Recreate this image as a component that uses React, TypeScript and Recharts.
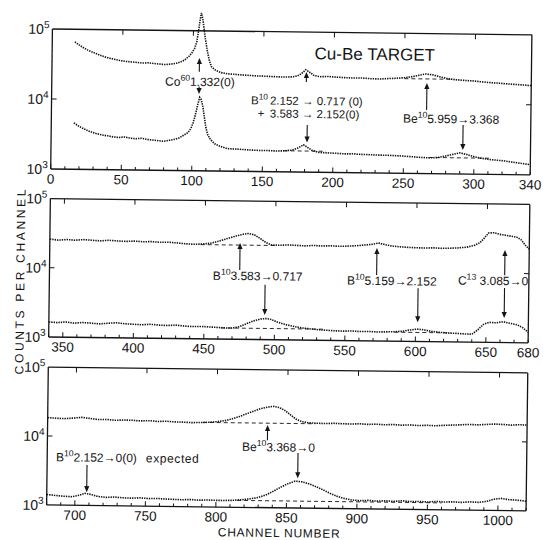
import { LineChart, Line, XAxis, YAxis, ReferenceLine, ReferenceDot } from 'recharts'

type Pt = [number, number]

// [channel, counts per channel]
const p1Upper: Pt[] = [[16,66000],[19,60000],[22,55000],[25,51000],[28,48000],[31,45500],[34,43000],[37,41000],[40,39500],[44,38000],[48,36500],[52,35500],[56,35000],[60,34500],[64,33800],[68,34200],[72,33500],[76,33000],[80,32500],[84,33000],[88,34000],[91,35500],[94,38000],[97,43000],[99,48000],[101,56000],[102.5,70000],[103.5,95000],[104.5,135000],[105.5,180000],[106.5,150000],[107.5,108000],[108.5,78000],[110,52000],[111.5,38000],[113,31000],[116,27500],[120,25500],[125,24500],[130,24200],[135,23800],[140,23500],[146,23200],[152,23000],[158,22800],[164,22600],[170,22800],[174,23500],[177,25500],[180,29000],[183,26500],[186,24000],[190,23200],[196,23400],[202,23000],[208,22700],[214,22500],[220,22600],[226,22200],[232,22000],[238,22400],[244,22700],[250,23200],[255,24000],[260,25200],[265,26500],[270,25800],[275,24300],[280,23000],[286,22200],[292,21800],[298,21500],[304,21000],[310,20500],[316,20200],[322,19800],[328,19500],[334,19200],[340,18800]]
const p1Lower: Pt[] = [[16,4600],[19,4200],[22,3900],[25,3650],[28,3450],[31,3300],[34,3200],[37,3100],[40,3050],[44,2950],[48,2900],[52,2950],[56,2850],[60,2800],[64,2850],[68,2750],[72,2700],[76,2650],[80,2600],[84,2700],[88,2800],[91,2950],[94,3200],[97,3500],[99,4000],[100.5,4800],[102,6200],[103.5,8500],[105,11200],[106,10500],[107.3,8400],[108.5,5800],[109.7,4100],[111,3300],[113,2800],[116,2450],[120,2250],[125,2100],[130,2080],[136,2050],[142,2020],[148,2000],[154,2000],[160,1980],[166,2000],[171,2050],[175,2200],[179,2450],[182,2250],[185,2050],[190,1920],[196,1900],[202,1880],[208,1850],[214,1860],[220,1830],[226,1820],[232,1800],[238,1800],[244,1780],[250,1760],[256,1730],[262,1700],[268,1680],[274,1700],[280,1800],[285,1900],[290,2000],[295,1900],[300,1780],[305,1700],[310,1640],[316,1600],[322,1560],[328,1500],[334,1450],[340,1400]]

const p2Upper: Pt[] = [[340,26000],[346,25200],[352,25800],[358,25300],[364,25900],[370,25400],[376,25000],[382,25600],[388,25100],[394,24800],[400,25200],[406,24700],[412,24900],[418,24400],[424,24600],[430,24100],[436,23500],[442,23200],[448,23400],[454,24200],[460,26000],[466,28500],[472,31000],[477,33000],[481,34000],[485,32500],[489,29000],[493,25500],[497,23500],[503,23200],[509,23600],[515,23300],[521,23000],[527,23400],[533,23100],[539,23300],[545,23000],[551,23200],[557,23600],[563,24200],[569,25000],[573,26000],[577,25000],[582,23800],[588,23200],[594,22800],[600,22600],[606,22500],[612,22700],[618,22400],[624,22600],[630,22900],[636,23600],[641,25000],[645,27500],[648,32000],[651,38000],[655,38500],[659,36500],[663,35500],[667,34500],[671,33500],[674,31000],[677,26000],[680,22500]]
const p2Lower: Pt[] = [[340,1650],[346,1620],[352,1660],[358,1600],[364,1640],[370,1610],[376,1580],[382,1620],[388,1650],[394,1600],[400,1580],[406,1560],[412,1590],[418,1550],[424,1540],[430,1560],[436,1520],[442,1500],[448,1510],[454,1490],[460,1470],[466,1450],[470,1450],[475,1520],[480,1680],[485,1850],[490,1980],[494,2020],[498,1950],[502,1800],[507,1680],[513,1580],[519,1500],[525,1460],[531,1420],[537,1400],[543,1380],[549,1370],[555,1380],[561,1360],[567,1370],[573,1350],[579,1360],[585,1370],[591,1400],[596,1460],[601,1510],[606,1480],[611,1410],[617,1370],[623,1340],[629,1330],[635,1310],[640,1300],[644,1500],[648,1800],[652,1950],[657,1920],[662,2000],[667,1900],[672,1820],[676,1650],[680,1420]]

const p3Upper: Pt[] = [[680,18500],[686,18200],[692,18000],[698,18400],[704,18900],[710,18300],[716,17700],[722,17800],[728,17400],[734,17600],[740,17500],[746,17200],[752,17400],[758,17000],[764,17200],[770,16900],[776,16800],[782,16600],[788,16700],[794,16900],[800,17300],[806,18000],[811,19200],[816,20800],[821,22800],[826,25000],[831,27200],[836,28800],[840,29500],[844,28500],[848,26000],[852,22500],[856,19500],[860,18000],[865,17300],[871,17100],[877,17000],[883,17200],[889,17000],[895,16900],[901,17100],[907,16800],[913,17000],[919,16700],[925,16900],[931,16600],[937,16800],[943,16500],[949,16700],[955,16500],[961,16800],[967,17000],[973,17200],[979,17500],[985,17300],[991,17600],[997,17900],[1003,17700],[1009,17400],[1015,17700],[1020,17500]]
const p3Lower: Pt[] = [[680,1420],[686,1380],[692,1350],[698,1330],[703,1400],[707,1500],[711,1450],[716,1360],[722,1320],[728,1340],[734,1310],[740,1300],[746,1320],[752,1290],[758,1300],[764,1280],[770,1270],[776,1260],[782,1270],[788,1250],[794,1260],[800,1250],[806,1250],[812,1260],[818,1290],[824,1330],[830,1400],[836,1550],[841,1750],[846,2000],[851,2250],[856,2450],[861,2400],[866,2250],[871,2050],[876,1850],[881,1650],[886,1500],[891,1400],[896,1340],[902,1310],[908,1330],[914,1300],[920,1320],[926,1300],[932,1330],[938,1300],[944,1310],[950,1290],[956,1320],[962,1300],[968,1310],[974,1290],[980,1320],[986,1300],[992,1350],[997,1450],[1002,1500],[1008,1440],[1014,1420],[1020,1380]]

// labelled channels on each x axis
const p1Labels = [0, 50, 100, 150, 200, 250, 300, 340]
const p2Labels = [350, 400, 450, 500, 550, 600, 650, 680]
const p3Labels = [700, 750, 800, 850, 900, 950, 1000]

// dashed background under peaks: [from ch, to ch, counts]
const p1Base = [[165, 195, 2000], [268, 312, 1700], [250, 285, 22500]]
const p2Base = [[447, 500, 23000], [462, 535, 1450], [585, 625, 1350]]
const p3Base = [[790, 870, 16800], [815, 960, 1260]]

// arrows: [ch, tail counts, head counts]
const p1Arrows = [[104.5, 26000, 41000], [104.5, 16000, 12500], [180.5, 19400, 26900], [181.5, 4700, 2650], [266, 8100, 19700], [292, 5000, 2200]]
const p2Arrows = [[474.9, 10000, 24600], [493, 6200, 2270], [572, 9000, 22000], [601.5, 5900, 1900], [662.8, 9400, 21700], [662.8, 6140, 2260]]
const p3Arrows = [[836, 9500, 15800], [857.8, 6270, 2700], [708.3, 3850, 1560]]

// annotations: [ch, counts, text parts ('^' = superscript), anchor, size]
type Txt = [number, number, string[], string, number?]
const p1Texts: Txt[] = [
  [105, 16300, ['Co', '^60', '1.332(0)'], 'middle'],
  [228.8, 41000, ['Cu-Be TARGET'], 'middle', 17],
  [153.4, 9100, ['B', '^10'], 'end', 11.5],
  [154.9, 9100, ['2.152 → 0.717 (0)'], 'start', 11.5],
  [148.5, 5940, ['+'], 'middle', 11.5],
  [154.9, 5940, ['3.583 → 2.152(0)'], 'start', 11.5],
  [249.3, 5300, ['Be', '^10', '5.959→3.368'], 'start'],
]
const p2Texts: Txt[] = [
  [455.9, 7200, ['B', '^10', '3.583→0.717'], 'start'],
  [551, 6460, ['B', '^10', '5.159→2.152'], 'start'],
  [629.7, 6760, ['C', '^13', ' 3.085→0'], 'start'],
]
const p3Texts: Txt[] = [
  [818, 6600, ['Be', '^10', '3.368→0'], 'start'],
  [686.2, 4330, ['B', '^10', '2.152→0(0)', '~expected'], 'start'],
]

const INK = '#141414'
const FONT = '"Liberation Sans", Arial, sans-serif'

const panels = [
  { top: 31.7, bottom: 171.7, domain: [0, 340], labels: p1Labels, upper: p1Upper, lower: p1Lower, base: p1Base, arrows: p1Arrows, texts: p1Texts },
  { top: 201.3, bottom: 339.7, domain: [340, 680], labels: p2Labels, upper: p2Upper, lower: p2Lower, base: p2Base, arrows: p2Arrows, texts: p2Texts },
  { top: 369.8, bottom: 507.7, domain: [680, 1020], labels: p3Labels, upper: p3Upper, lower: p3Lower, base: p3Base, arrows: p3Arrows, texts: p3Texts },
]

const pts = (a: Pt[]) => a.map(([ch, c]) => ({ ch, c }))

function Lbl({ x, y, parts, anchor, size = 12 }: any) {
  let up = false
  return (
    <text x={x} y={y} textAnchor={anchor} fontSize={size} fontFamily={FONT} fill={INK}>
      {parts.map((p: string, i: number) => {
        if (p.startsWith('^')) {
          up = true
          return <tspan key={i} fontSize={size * 0.72} dy={-size * 0.42}>{p.slice(1)}</tspan>
        }
        const dy = up ? size * 0.42 : 0
        up = false
        if (p.startsWith('~')) return <tspan key={i} dx={9} dy={dy} letterSpacing={0.6}>{p.slice(1)}</tspan>
        return <tspan key={i} dy={dy}>{p}</tspan>
      })}
    </text>
  )
}

function Arrow(p: any) {
  const { x1, y1, x2, y2 } = p
  const dir = y2 > y1 ? 1 : -1
  return (
    <g>
      <line x1={x1} y1={y1} x2={x2} y2={y2 - dir * 5} stroke={INK} strokeWidth={1.1} />
      <polygon points={`${x2},${y2} ${x2 - 2.6},${y2 - dir * 6} ${x2 + 2.6},${y2 - dir * 6}`} fill={INK} />
    </g>
  )
}

function BottomTick({ x, y, payload, labels }: any) {
  const v = payload.value
  const lab = labels.includes(v)
  return (
    <g>
      <line x1={x} x2={x} y1={y} y2={y - (v % 50 === 0 ? 5 : 3)} stroke={INK} strokeWidth={1} />
      {lab && <text x={x} y={y + 14.5} textAnchor="middle" fontSize={13.5} fontFamily={FONT} fill={INK}>{v}</text>}
    </g>
  )
}

const TopTick = ({ x, y }: any) => <line x1={x} x2={x} y1={y} y2={y + 5} stroke={INK} strokeWidth={1} />

function LeftTick({ x, y, payload }: any) {
  const exp = Math.round(Math.log10(payload.value))
  return (
    <g>
      {exp === 4 && <line x1={x} x2={x + 5} y1={y} y2={y} stroke={INK} strokeWidth={1} />}
      <text x={x - 3} y={y + 5} textAnchor="end" fontSize={14} fontFamily={FONT} fill={INK}>
        10<tspan fontSize={10} dy={-6}>{exp}</tspan>
      </text>
    </g>
  )
}

const RightTick = ({ x, y }: any) => <line x1={x} x2={x - 5} y1={y} y2={y} stroke={INK} strokeWidth={1} />

function Panel({ cfg }: any) {
  const [lo, hi] = cfg.domain
  const minor: number[] = []
  for (let t = lo; t <= hi; t += 10) minor.push(t)
  const major = minor.filter((t) => t % 50 === 0 && t > lo && t < hi)
  const axisLine = { stroke: INK, strokeWidth: 1.3 }
  return (
    <div style={{ position: 'absolute', left: 0, top: 0 }}>
      <LineChart width={543} height={540} margin={{ top: cfg.top - 5, right: 0, bottom: 540 - cfg.bottom - 20, left: 0 }}>
        <XAxis dataKey="ch" type="number" domain={cfg.domain} allowDataOverflow ticks={minor} interval={0} height={20}
          tickSize={0} tickMargin={0} tickLine={false} axisLine={axisLine}
          tick={(p: any) => <BottomTick {...p} labels={cfg.labels} />} />
        <XAxis xAxisId="top" orientation="top" dataKey="ch" type="number" domain={cfg.domain} allowDataOverflow ticks={major} interval={0} height={5}
          tickSize={0} tickMargin={0} tickLine={false} axisLine={axisLine} tick={TopTick} />
        <YAxis scale="log" domain={[1000, 100000]} allowDataOverflow ticks={[1000, 10000, 100000]} interval={0} width={49.5}
          tickSize={0} tickMargin={0} tickLine={false} axisLine={axisLine} tick={LeftTick} />
        <YAxis yAxisId="r" orientation="right" scale="log" domain={[1000, 100000]} allowDataOverflow ticks={[10000]} width={14}
          tickSize={0} tickMargin={0} tickLine={false} axisLine={axisLine} tick={RightTick} />
        {cfg.base.map(([a, b, v]: number[], i: number) => (
          <ReferenceLine key={'b' + i} segment={[{ x: a, y: v }, { x: b, y: v }]} stroke={INK} strokeWidth={0.9} strokeDasharray="4 3" />
        ))}
        <Line data={pts(cfg.upper)} dataKey="c" type="linear" stroke={INK} strokeWidth={1.6} strokeDasharray="1.4 1"
          dot={false} isAnimationActive={false} className="trace" />
        <Line data={pts(cfg.lower)} dataKey="c" type="linear" stroke={INK} strokeWidth={1.6} strokeDasharray="1.4 1"
          dot={false} isAnimationActive={false} className="trace" />
        {cfg.arrows.map(([ch, from, to]: number[], i: number) => (
          <ReferenceLine key={'a' + i} segment={[{ x: ch, y: from }, { x: ch, y: to }]} shape={(p: any) => <Arrow {...p} />} />
        ))}
        {cfg.texts.map(([ch, v, parts, anchor, size]: Txt, i: number) => (
          <ReferenceDot key={'t' + i} x={ch} y={v} r={0}
            shape={(p: any) => <Lbl x={p.cx} y={p.cy} parts={parts} anchor={anchor} size={size} />} />
        ))}
      </LineChart>
    </div>
  )
}

export default function App() {
  return (
    <div style={{ position: 'absolute', left: 0, top: 0, width: 543, height: 540, background: '#fff', overflow: 'hidden' }}>
      <style>{`.trace path { clip-path: none !important; } .recharts-surface { overflow: visible; }`}</style>
      <div style={{ position: 'absolute', left: 0, top: 0, width: 543, height: 540, transform: 'rotate(0.7deg)', transformOrigin: '271.5px 270px' }}>
        {panels.map((cfg, i) => <Panel key={i} cfg={cfg} />)}
        <svg width={543} height={540} style={{ position: 'absolute', left: 0, top: 0 }}>
          <text x={20.5} y={285} transform="rotate(-90 20.5 285)" textAnchor="middle" dominantBaseline="central"
            fontSize={12} fontFamily={FONT} fill={INK} textLength={185} lengthAdjust="spacing">COUNTS PER CHANNEL</text>
          <text x={282} y={537} textAnchor="middle" fontSize={12} fontFamily={FONT} fill={INK}
            textLength={122} lengthAdjust="spacing">CHANNEL NUMBER</text>
        </svg>
      </div>
    </div>
  )
}
